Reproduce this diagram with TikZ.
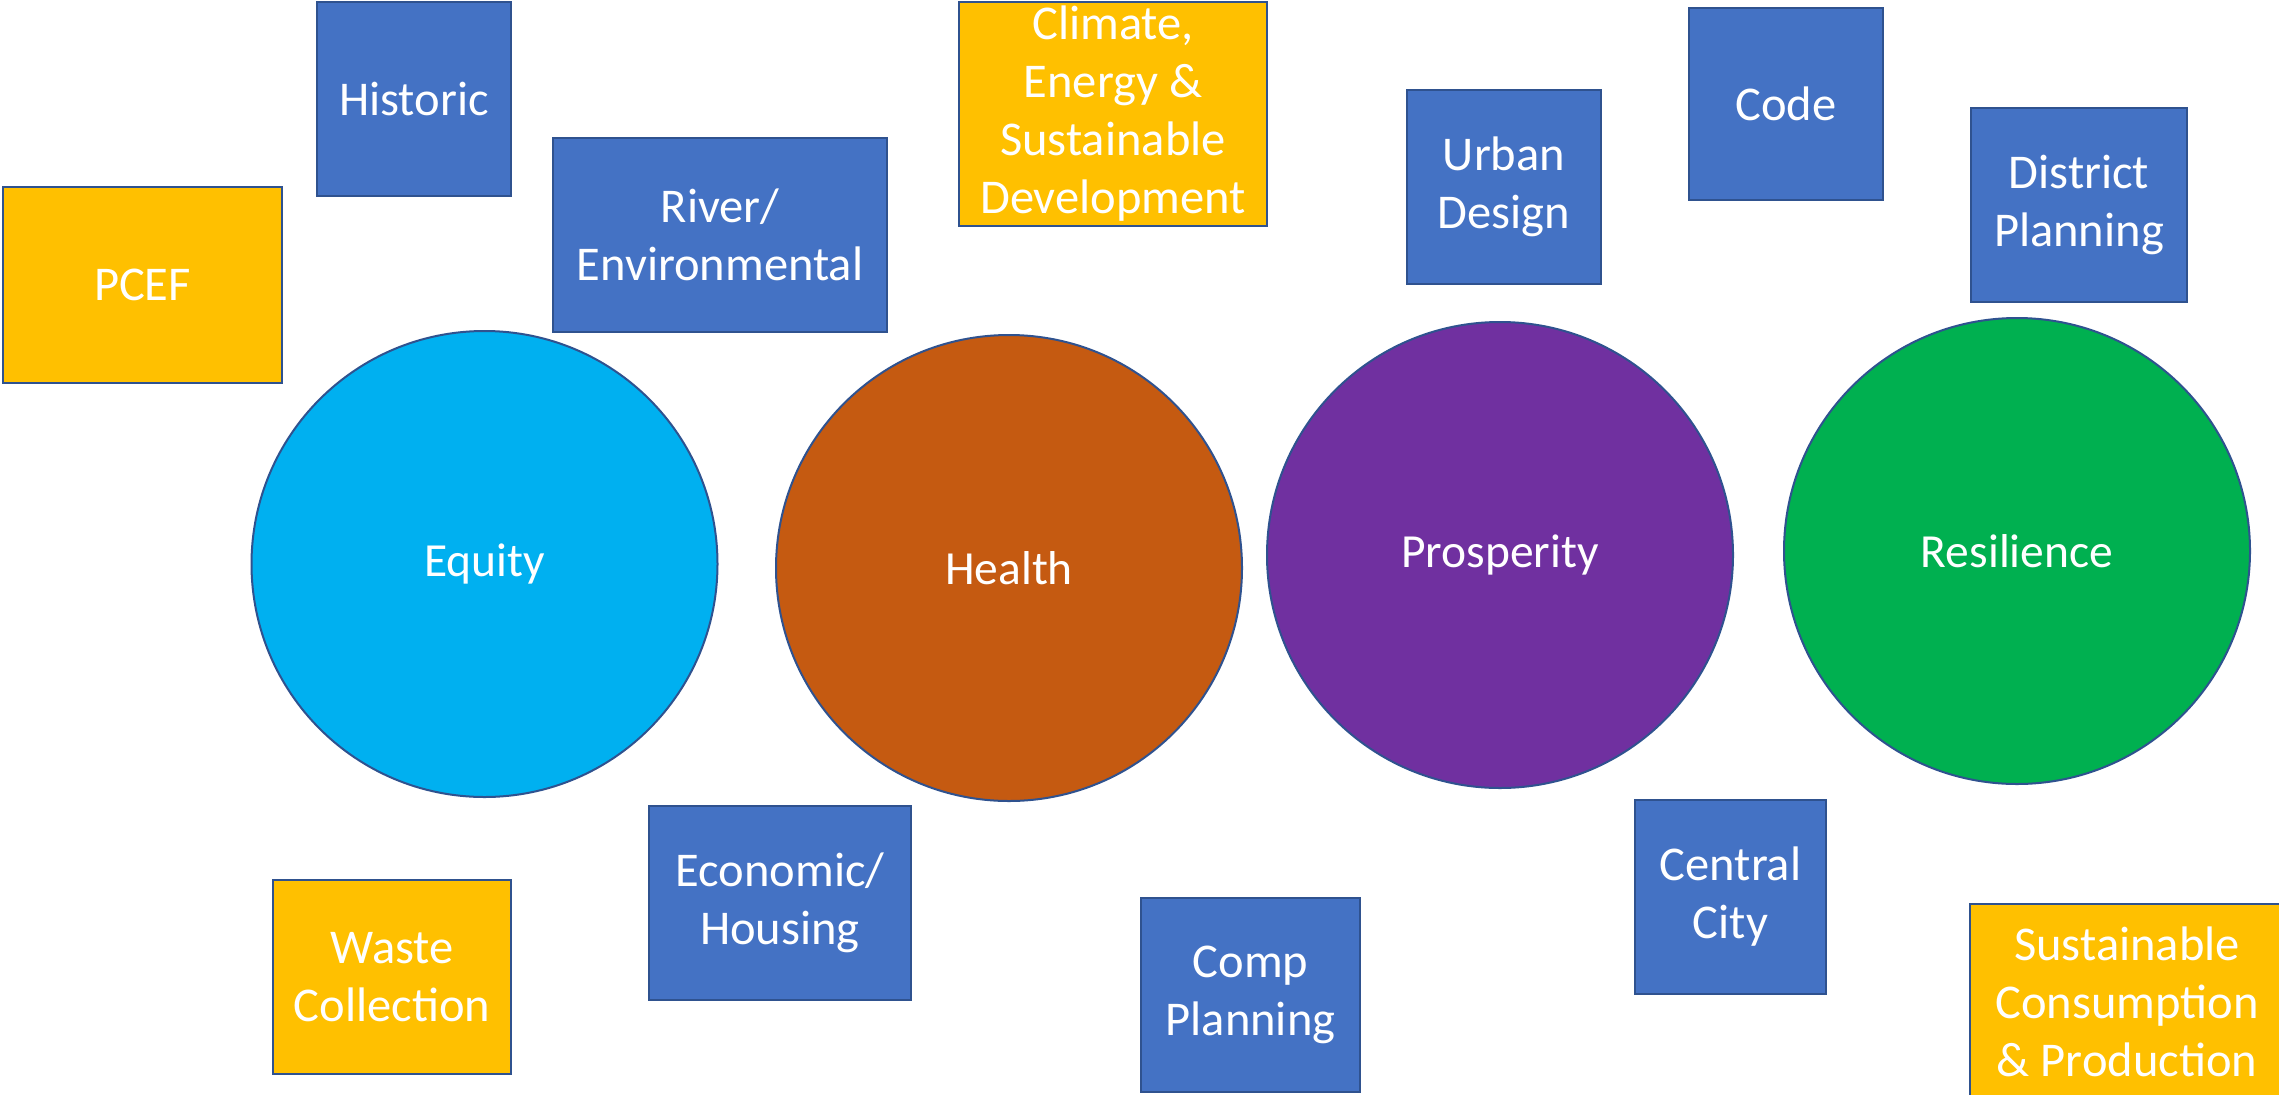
\documentclass[tikz,border=0pt]{standalone}
\usepackage{fontspec}
\setmainfont{Carlito}
\definecolor{boxblue}{HTML}{4472C4}
\definecolor{edgeblue}{HTML}{2F528F}
\definecolor{gold}{HTML}{FFC000}
\definecolor{cequity}{HTML}{00B0F0}
\definecolor{chealth}{HTML}{C55A11}
\definecolor{cprosp}{HTML}{7030A0}
\definecolor{cresil}{HTML}{00B050}
\tikzset{
  base/.style={draw=edgeblue, line width=2pt, text=white, align=center, inner sep=0pt,
    font=\fontsize{48.5}{58}\selectfont},
  bluebox/.style={base, rectangle, fill=boxblue},
  goldbox/.style={base, rectangle, fill=gold},
  bigcircle/.style={base, circle, minimum size=466pt, font=\fontsize{47.5}{58}\selectfont},
  sz/.style n args={2}{minimum width=#1pt, minimum height=#2pt}
}
\begin{document}
\begin{tikzpicture}[x=1pt, y=-1pt]
\useasboundingbox[fill=white] (0,0) rectangle (2279,1095);
% circles
\node[bigcircle, fill=cequity] (equity) at (484.5,564) {Equity};
\node[bigcircle, fill=chealth] (health) at (1009,568) {Health};
\node[bigcircle, fill=cprosp] (prosperity) at (1500,555) {Prosperity};
\node[bigcircle, fill=cresil] (resilience) at (2017,551) {Resilience};
% top boxes
\node[goldbox, sz={279}{196}] (pcef) at (142.5,285) {PCEF};
\node[bluebox, sz={194}{194}] (historic) at (414,99) {Historic};
\node[bluebox, sz={334}{194}] (river) at (720,235) {River/\\Environmental};
\node[goldbox, sz={308}{224}] (climate) at (1113,114) {Climate,\\Energy \&\\Sustainable\\Development};
\node[bluebox, sz={194}{194}] (urban) at (1504,187) {Urban\\Design};
\node[bluebox, sz={194}{192}] (code) at (1786,104) {Code};
\node[bluebox, sz={216}{194}] (district) at (2079,205) {District\\Planning};
% bottom boxes
\node[goldbox, sz={238}{194}] (waste) at (392,977) {Waste\\Collection};
\node[bluebox, sz={262}{194}] (economic) at (780,903) {Economic/\\Housing};
\node[bluebox, sz={219}{194}] (comp) at (1250.5,995) {Comp\\Planning};
\node[bluebox, sz={191}{194}] (central) at (1730.5,897) {Central\\City};
\node[goldbox, sz={314}{196}] (scp) at (2127,1002) {Sustainable\\Consumption\\\& Production};
\end{tikzpicture}
\end{document}
